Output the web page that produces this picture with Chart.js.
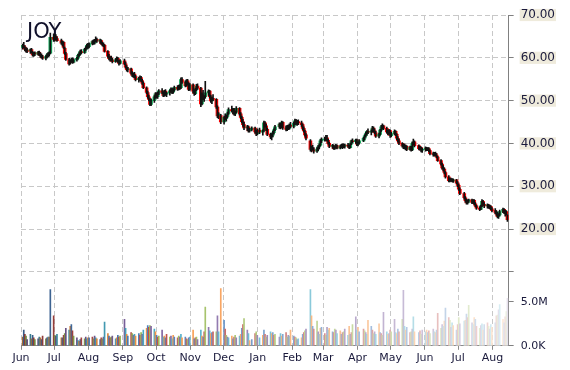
<!DOCTYPE html>
<html>
<head>
<meta charset="utf-8">
<script src="https://cdn.jsdelivr.net/npm/chart.js@4.4.1/dist/chart.umd.min.js"></script>
<style>
  html, body { margin: 0; padding: 0; background: #fff; }
</style>
</head>
<body>
<canvas id="chart" width="570" height="370"></canvas>
<script>
// JOY daily candles, Jun 2014 - Aug 2015
const ticker = 'JOY';
const firstDay = '2014-06-02';
const lastDay = '2015-08-14';
const holidays = ['2014-07-04', '2014-09-01', '2014-11-27', '2014-12-25', '2015-01-01',
  '2015-01-19', '2015-02-16', '2015-04-03', '2015-05-25', '2015-07-03'];
const monthLabels = ['Jun', 'Jul', 'Aug', 'Sep', 'Oct', 'Nov', 'Dec', 'Jan', 'Feb', 'Mar', 'Apr', 'May', 'Jun', 'Jul', 'Aug'];
const monthStarts = ['2014-06-01', '2014-07-01', '2014-08-01', '2014-09-01', '2014-10-01', '2014-11-01', '2014-12-01',
  '2015-01-01', '2015-02-01', '2015-03-01', '2015-04-01', '2015-05-01', '2015-06-01', '2015-07-01', '2015-08-01'];
const priceTicks = [10, 20, 30, 40, 50, 60, 70];
const volumeTicks = [0, 5];

// one line per month
const open = [
  62.4,62.9,62.5,62.0,61.8,61.6,61.9,61.2,60.8,61.0,60.8,61.3,60.8,60.5,60.2,59.9,60.3,60.7,60.9,61.1,64.8,
  64.3,65.0,64.5,64.0,63.4,63.6,62.2,61.0,59.6,58.8,59.2,59.5,59.0,59.5,59.9,60.6,60.9,61.4,61.2,62.0,62.3,62.8,
  62.6,63.3,63.8,63.4,64.1,64.3,63.9,64.0,63.3,63.1,62.9,61.5,60.4,59.8,60.0,59.5,59.1,59.5,59.9,59.1,58.7,
  59.3,58.6,57.8,57.2,57.4,56.4,55.9,56.2,55.6,54.9,55.2,55.4,54.7,54.1,53.0,51.9,50.9,50.3,49.1,50.0,50.9,
  51.6,50.9,51.7,52.3,51.9,51.2,52.2,51.5,51.8,52.3,52.6,52.0,52.5,53.1,52.7,53.3,53.0,54.9,54.3,53.5,54.6,53.9,52.6,
  53.7,52.2,51.6,52.6,53.4,52.9,49.2,51.4,50.6,50.9,51.8,52.2,50.9,49.9,50.5,50.3,48.5,46.4,46.5,
  45.0,46.1,45.8,46.3,47.0,47.9,47.6,48.0,46.9,47.3,48.2,46.9,46.1,45.1,44.4,43.6,43.9,42.9,43.2,43.6,42.7,42.2,
  43.1,42.6,43.0,44.8,44.1,43.3,42.1,41.5,41.9,42.5,43.2,43.9,44.5,43.8,44.9,43.6,43.3,43.9,43.5,44.3,
  44.0,44.7,45.3,44.6,45.1,44.8,44.4,43.5,42.9,42.0,40.6,38.6,38.9,38.5,38.2,38.7,39.2,39.6,40.6,
  40.8,41.0,41.3,40.7,40.0,39.3,39.5,38.8,39.2,39.5,38.9,39.4,39.2,39.7,39.3,39.6,39.4,39.0,39.9,40.6,40.4,40.8,
  39.8,40.1,40.6,41.2,41.8,42.3,42.8,42.6,42.9,43.6,43.0,42.5,41.7,42.1,43.1,43.9,44.1,43.5,42.7,42.4,43.0,
  41.8,42.3,42.8,42.1,41.2,40.6,40.0,39.4,39.6,39.0,39.3,38.6,39.1,38.5,40.0,40.4,39.5,38.8,39.0,38.4,
  38.6,38.9,38.5,38.8,38.3,37.6,37.4,37.7,37.3,36.8,36.0,35.2,34.3,34.0,33.2,32.2,31.3,31.6,31.4,31.2,31.5,30.8,
  30.2,29.3,28.3,27.3,26.6,26.1,26.5,26.8,26.2,26.7,25.9,25.4,24.9,24.6,25.4,26.5,25.8,25.4,25.6,25.1,25.3,24.7,
  24.3,23.9,23.5,22.9,23.3,24.1,24.6,23.9,24.1,23.2
];
const high = [
  63.2,63.6,62.8,62.4,62.3,62.1,62.2,61.5,61.3,61.4,61.5,61.6,61.2,60.9,60.6,60.5,61.0,61.2,61.4,65.8,65.6,
  65.3,65.4,64.9,64.4,63.9,63.8,62.5,61.3,59.9,59.5,59.9,60.0,59.8,60.1,60.8,61.2,61.8,61.9,62.2,62.6,63.2,63.4,
  63.5,64.0,64.2,64.3,64.9,64.6,64.4,64.2,63.7,63.5,63.1,61.7,60.8,60.3,60.4,59.9,59.8,60.2,60.1,59.4,59.6,
  59.7,59.0,58.2,57.8,57.6,56.8,56.5,56.6,55.9,55.5,55.8,55.7,55.0,54.4,53.2,52.2,51.3,50.5,50.4,51.2,51.9,
  51.9,52.0,52.6,52.8,52.1,52.4,52.6,52.0,52.5,53.0,52.9,52.8,53.4,53.5,53.6,53.7,55.3,55.4,54.6,54.9,55.0,54.2,54.0,
  53.9,52.6,52.9,53.8,53.9,53.1,51.8,52.4,51.2,54.5,52.5,52.4,51.3,50.8,51.4,50.5,48.8,47.2,46.8,
  46.4,46.9,46.6,47.3,48.3,48.7,48.2,48.2,47.6,48.6,48.4,47.2,46.4,45.6,44.9,44.2,44.1,43.5,43.9,43.8,43.1,43.4,
  43.6,43.2,45.2,45.1,44.5,43.6,42.4,42.3,42.8,43.4,44.2,44.8,44.7,45.2,45.1,44.1,44.2,44.3,44.6,44.9,
  45.0,45.7,45.6,45.4,45.5,45.2,44.6,43.9,43.1,42.3,40.9,39.4,39.6,39.0,39.0,39.5,39.9,40.9,41.3,
  41.5,41.9,41.9,41.0,40.3,39.8,39.7,39.4,39.8,39.7,39.6,39.8,39.9,39.9,39.8,40.0,39.7,40.1,40.8,41.1,41.0,41.0,
  40.4,40.9,41.4,42.0,42.6,43.0,43.4,43.2,44.0,43.9,43.4,42.8,42.4,43.3,44.2,44.6,44.3,43.8,43.1,43.3,43.2,
  42.6,43.2,43.0,42.3,41.6,41.0,40.2,39.9,39.9,39.6,39.5,39.4,39.3,40.3,41.0,40.6,39.7,39.3,39.2,38.9,
  39.2,39.1,39.0,39.0,38.5,38.0,37.9,38.0,37.6,37.0,36.2,35.4,34.8,34.3,33.4,32.5,31.9,31.9,31.8,31.7,31.6,31.1,
  30.5,29.6,28.6,27.6,27.0,26.8,27.0,27.0,26.9,26.9,26.2,25.6,25.2,25.6,26.9,26.7,26.2,25.9,25.8,25.6,25.5,25.0,
  24.8,24.3,24.0,23.6,24.4,24.9,24.8,24.4,24.3,23.4
];
const low = [
  62.0,62.3,61.6,61.3,61.2,61.0,61.1,60.4,60.3,60.5,60.6,60.5,60.1,59.9,59.6,59.5,60.0,60.2,60.4,60.9,63.8,
  63.9,64.2,63.8,63.1,62.8,62.2,60.8,59.4,58.3,58.5,58.9,58.7,58.8,59.2,59.7,60.3,60.6,60.9,61.0,61.6,62.0,62.2,
  62.3,63.0,63.1,63.2,63.7,63.6,63.4,63.1,62.8,62.6,61.3,60.1,59.5,59.2,59.3,58.8,58.9,59.2,58.9,58.3,58.5,
  58.4,57.6,56.9,56.7,56.2,55.6,55.4,55.3,54.6,54.3,54.7,54.4,53.8,52.8,51.6,50.6,49.9,48.8,48.8,49.6,50.5,
  50.6,50.5,51.4,51.6,50.9,51.0,51.2,50.9,51.3,51.9,51.6,51.7,52.2,52.4,52.5,52.6,52.8,54.0,53.2,53.3,53.6,52.3,52.4,
  51.8,51.2,51.4,52.3,52.6,48.6,49.0,50.2,49.8,50.6,51.2,50.6,49.6,49.3,50.0,48.2,46.0,45.8,44.6,
  44.5,45.5,45.2,46.0,46.8,47.3,46.9,46.6,46.5,47.1,46.6,45.8,44.8,44.0,43.2,43.0,42.6,42.6,42.9,42.4,41.8,42.0,
  42.3,41.9,42.8,43.8,43.0,41.8,41.1,40.8,41.5,42.2,43.0,43.5,43.4,43.6,43.3,42.9,43.0,43.2,43.3,43.7,
  43.6,44.4,44.3,44.2,44.4,44.0,43.2,42.6,41.7,40.8,38.2,38.0,38.4,37.7,37.9,38.3,38.7,39.4,40.2,
  40.5,40.6,40.5,39.8,39.0,38.9,38.6,38.6,38.9,38.7,38.7,39.0,38.8,39.0,38.9,39.1,38.8,38.9,39.7,40.2,40.0,39.5,
  39.4,39.8,40.4,40.9,41.5,41.9,42.3,42.0,42.6,42.7,42.2,41.4,41.3,41.9,42.8,43.4,43.2,42.4,42.0,42.1,41.4,
  41.5,42.0,41.8,40.9,40.3,39.7,39.1,38.8,38.7,38.5,38.3,38.4,38.2,38.3,39.6,39.2,38.5,38.4,38.0,37.9,
  38.2,38.3,38.3,38.0,37.3,37.0,37.0,37.1,36.6,35.8,34.9,34.0,33.6,32.9,31.9,31.0,31.0,31.1,31.0,30.9,30.6,29.9,
  29.0,28.0,27.0,26.3,25.8,25.8,26.2,25.9,26.0,25.7,25.2,24.6,24.3,24.5,25.2,25.5,25.0,24.9,24.8,24.7,24.5,24.0,
  23.6,23.2,22.6,22.5,23.1,23.8,23.6,23.0,23.3,21.8
];
const close = [
  62.9,62.5,62.0,61.8,61.5,61.9,61.3,60.7,61.0,60.9,61.3,60.8,60.5,60.2,59.9,60.3,60.7,60.9,61.1,64.8,64.3,
  65.0,64.5,64.0,63.4,63.6,62.4,61.0,59.6,58.6,59.2,59.6,58.9,59.5,59.9,60.6,60.9,61.5,61.2,62.0,62.3,62.9,62.6,
  63.3,63.8,63.4,64.1,64.3,63.9,64.0,63.3,63.1,62.9,61.5,60.4,59.8,60.0,59.5,59.1,59.5,59.9,59.2,58.7,59.3,
  58.6,57.8,57.2,57.5,56.4,55.9,56.2,55.6,54.9,55.2,55.4,54.7,54.1,53.0,51.9,50.9,50.3,49.1,50.1,50.9,51.6,
  50.9,51.7,52.3,51.9,51.2,52.2,51.5,51.8,52.3,52.7,52.0,52.5,53.1,52.7,53.3,52.9,54.9,54.3,53.5,54.6,53.9,52.6,53.7,
  52.2,51.6,52.6,53.4,52.9,49.2,51.4,50.6,50.9,51.8,52.2,50.9,49.9,50.5,50.3,48.5,46.4,46.9,45.0,
  46.1,45.8,46.3,47.0,47.9,47.6,48.0,46.9,47.3,48.2,46.9,46.1,45.1,44.4,43.6,43.9,42.9,43.2,43.6,42.7,42.2,43.1,
  42.6,43.0,44.8,44.1,43.3,42.1,41.5,41.9,42.5,43.2,43.9,44.5,43.8,44.9,43.6,43.3,43.9,43.5,44.3,44.0,
  44.7,45.3,44.6,45.1,44.8,44.4,43.5,42.9,42.0,41.2,38.6,38.9,38.5,38.2,38.7,39.2,39.6,40.6,41.0,
  41.0,41.3,40.7,40.0,39.3,39.5,38.8,39.2,39.5,38.9,39.4,39.2,39.7,39.3,39.6,39.4,39.0,39.9,40.6,40.4,40.8,39.8,
  40.1,40.6,41.2,41.8,42.3,42.8,42.6,42.9,43.6,43.0,42.5,41.7,42.1,43.1,43.9,44.1,43.5,42.7,42.4,43.0,41.8,
  42.3,42.8,42.1,41.2,40.6,40.0,39.4,39.6,39.0,39.3,38.6,39.1,38.5,40.0,40.4,39.5,38.8,39.0,38.4,38.6,
  38.9,38.5,38.8,38.3,37.6,37.4,37.7,37.3,36.8,36.0,35.2,34.3,34.0,33.2,32.2,31.3,31.6,31.4,31.2,31.5,30.8,30.2,
  29.3,28.3,27.3,26.6,26.1,26.5,26.8,26.2,26.7,25.9,25.4,24.9,24.6,25.4,26.5,25.8,25.4,25.6,25.1,25.3,24.7,24.3,
  23.9,23.5,22.9,23.3,24.1,24.6,23.9,24.1,23.5,22.2
];
// millions of shares
const volume = [
  1.0,1.8,1.3,1.1,0.7,1.3,0.8,1.2,0.9,0.7,0.8,1.0,0.9,0.7,1.1,0.8,0.9,1.0,1.0,6.4,3.4,
  1.2,1.1,1.3,0.9,0.9,1.2,1.4,2.0,1.8,2.2,2.4,1.7,1.1,0.9,0.6,0.5,0.7,0.9,0.8,1.0,0.8,0.9,
  0.9,1.0,0.8,1.1,0.9,0.8,0.7,0.9,0.8,1.0,2.7,1.4,1.1,0.9,1.0,1.1,0.8,0.9,1.2,1.0,1.1,
  3.0,2.0,1.3,1.1,1.5,1.4,1.2,1.3,1.1,1.4,1.2,1.5,1.3,1.8,2.0,2.3,2.1,2.3,2.2,1.9,1.6,
  1.2,1.0,1.1,1.8,1.0,1.1,0.9,1.3,1.0,1.1,0.8,1.2,1.0,0.9,1.1,1.0,1.3,0.9,1.0,0.8,0.7,0.9,1.0,
  1.8,0.8,0.9,1.0,0.7,1.8,1.1,1.0,1.6,4.4,2.1,1.7,1.4,1.5,1.6,1.6,3.4,1.6,6.5,
  2.9,1.9,1.2,1.0,0.9,1.1,0.8,1.0,1.2,0.9,1.1,1.3,2.0,2.4,3.1,1.8,1.4,0.6,0.7,1.4,1.6,1.2,
  0.9,1.2,1.8,1.3,1.0,1.2,1.6,1.4,1.5,1.2,1.3,1.0,1.4,1.1,1.3,1.5,1.0,1.2,1.1,1.8,
  1.1,1.0,0.9,0.7,0.8,0.9,1.3,1.5,1.7,1.9,6.4,3.4,2.2,1.9,2.8,1.6,1.3,2.0,2.1,
  1.4,1.2,2.1,1.8,2.0,1.6,1.5,1.9,1.8,1.4,1.7,1.3,1.5,1.6,1.9,1.2,2.2,1.3,1.5,2.4,3.3,1.8,
  2.1,1.6,1.9,1.7,1.5,1.3,2.9,2.2,1.8,1.4,1.6,1.3,2.5,1.5,1.4,1.2,3.8,1.6,1.3,1.4,1.8,
  1.6,3.0,1.5,1.4,1.9,1.6,3.0,6.3,2.2,1.8,2.1,1.5,1.6,1.9,3.3,1.6,1.5,1.7,1.3,1.8,
  1.6,1.8,1.5,1.7,1.4,1.9,1.6,1.5,1.8,3.7,2.0,2.4,2.2,2.8,4.3,3.2,2.9,2.1,2.6,2.3,1.8,2.4,
  3.2,2.5,2.8,2.9,3.6,3.2,4.6,2.6,2.4,3.2,3.0,2.2,2.0,2.3,2.5,1.8,2.4,2.6,2.2,1.9,2.4,2.1,
  2.6,3.4,3.5,4.1,4.7,3.0,2.6,3.3,3.9,5.4
];

const UP = '#12a85a', DOWN = '#ff0000';
const volPalette = ['#4f81bd', '#c0504d', '#9bbb59', '#8064a2', '#4bacc6', '#f79646'];
const FONT = '"DejaVu Sans", Verdana, sans-serif';

// trading days as day numbers counted from Jun 1 2014 (candle drawn mid-day)
const DAY = 86400000;
const origin = Date.parse('2014-06-01T00:00:00Z');
const dayNum = s => (Date.parse(s + 'T00:00:00Z') - origin) / DAY;
const tradingDays = [];
for (let t = Date.parse(firstDay + 'T00:00:00Z'); t <= Date.parse(lastDay + 'T00:00:00Z'); t += DAY) {
  const d = new Date(t);
  const wd = d.getUTCDay();
  if (wd === 0 || wd === 6 || holidays.includes(d.toISOString().slice(0, 10))) continue;
  tradingDays.push((t - origin) / DAY + 0.5);
}
if ([open, high, low, close, volume].some(a => a.length !== tradingDays.length)) {
  console.error('length mismatch', tradingDays.length, open.length, high.length, low.length, close.length, volume.length);
}

// office palette, darker at the start and fading out towards the end
function shade(hex, s) {
  const n = parseInt(hex.slice(1), 16);
  const ch = [n >> 16, (n >> 8) & 255, n & 255].map(c => s < 0 ? c * (1 + s) : c + (255 - c) * s);
  return 'rgb(' + ch.map(Math.round).join(',') + ')';
}
const nDays = tradingDays.length;
const volColors = tradingDays.map((_, i) => shade(volPalette[(i + 5) % 6], -0.3 + 1.1 * i / (nDays - 1)));

const titlePlugin = {
  id: 'tickerTitle',
  beforeDatasetsDraw(chart) {
    const c = chart.ctx;
    c.save();
    c.font = '21px ' + FONT;
    c.fillStyle = '#10102a';
    c.textBaseline = 'alphabetic';
    c.fillText(ticker, 27, 38);
    c.restore();
  }
};

new Chart(document.getElementById('chart'), {
  type: 'bar',
  data: {
    datasets: [
      {
        label: 'wick',
        data: tradingDays.map((x, i) => ({ x, y: [low[i], high[i]] })),
        backgroundColor: '#111',
        barThickness: 1,
        yAxisID: 'y',
        order: 1
      },
      {
        label: 'body',
        data: tradingDays.map((x, i) => ({ x, y: [open[i], close[i]] })),
        backgroundColor: tradingDays.map((_, i) => close[i] >= open[i] ? UP : DOWN),
        barThickness: 3,
        minBarLength: 1,
        yAxisID: 'y',
        order: 2
      },
      {
        label: 'volume',
        data: tradingDays.map((x, i) => ({ x, y: volume[i] })),
        backgroundColor: volColors,
        barThickness: 1,
        yAxisID: 'yv',
        order: 3
      }
    ]
  },
  options: {
    responsive: false,
    animation: false,
    devicePixelRatio: 1,
    layout: { padding: { left: 21, top: 15, right: 8, bottom: 3 } },
    datasets: { bar: { grouped: false, borderWidth: 0 } },
    plugins: { legend: { display: false }, tooltip: { enabled: false } },
    scales: {
      x: {
        type: 'linear',
        min: 0,
        max: 440.6,
        offset: false,
        afterBuildTicks: s => { s.ticks = monthStarts.map(m => ({ value: dayNum(m) })); },
        grid: { offset: false, color: '#c8c8c8', tickColor: '#8a8a8a', tickLength: 4 },
        border: { color: '#8a8a8a', dash: [5, 3] },
        ticks: {
          autoSkip: false, maxRotation: 0, padding: 2,
          color: '#1a1a3c', font: { family: FONT, size: 11 },
          callback: (v, i) => monthLabels[i]
        }
      },
      y: {
        type: 'linear',
        position: 'right',
        stack: 'right',
        stackWeight: 257,
        min: 10,
        max: 70,
        afterBuildTicks: s => { s.ticks = priceTicks.map(v => ({ value: v })); },
        grid: { color: '#c8c8c8', tickColor: '#808080', tickLength: 5 },
        border: { color: '#808080', dash: [5, 3] },
        ticks: {
          padding: 7,
          color: '#1a1a3c',
          font: { family: FONT, size: 12, lineHeight: 0.85 },
          callback: v => v >= 20 ? v.toFixed(2) : '',
          showLabelBackdrop: true,
          backdropColor: ctx => ctx.tick && ctx.tick.value >= 20 ? '#efebdc' : 'rgba(0,0,0,0)',
          backdropPadding: { x: 1, y: 1 }
        }
      },
      yv: {
        type: 'linear',
        position: 'right',
        stack: 'right',
        stackWeight: 74,
        min: 0,
        max: 8.41,
        afterBuildTicks: s => { s.ticks = volumeTicks.map(v => ({ value: v })); },
        grid: { drawOnChartArea: false, tickColor: '#808080', tickLength: 5 },
        border: { color: '#808080' },
        ticks: {
          padding: 7,
          color: '#1a1a3c',
          font: { family: FONT, size: 11 },
          callback: v => v === 0 ? '0.0K' : v.toFixed(1) + 'M'
        }
      }
    }
  },
  plugins: [titlePlugin]
});
</script>
</body>
</html>
